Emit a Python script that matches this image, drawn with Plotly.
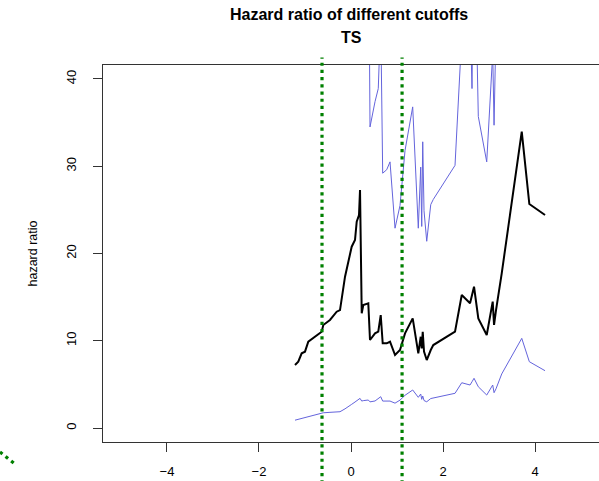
import plotly.graph_objects as go

# cutoff values (x) and hazard ratio with confidence bounds
cutoff = [-1.217, -1.146, -1.072, -1.000, -0.928, -0.783, -0.637, -0.602, -0.457, -0.311,
          -0.239, -0.130, -0.059, 0.015, 0.087, 0.124, 0.174, 0.196, 0.233, 0.267,
          0.376, 0.413, 0.522, 0.593, 0.646, 0.689, 0.776, 0.848, 0.957, 1.065,
          1.174, 1.341, 1.463, 1.515, 1.537, 1.559, 1.587, 1.646, 1.733, 1.789,
          2.261, 2.407, 2.587, 2.630, 2.674, 2.767, 2.950, 3.080, 3.109, 3.152,
          3.276, 3.711, 3.876, 4.217]
hazard = [7.22, 7.60, 8.56, 8.75, 9.89, 10.46, 11.04, 11.81, 12.38, 13.33,
          13.52, 17.34, 18.88, 20.78, 21.55, 23.64, 24.41, 27.28, 13.15, 14.10,
          14.29, 10.09, 10.85, 11.04, 12.95, 9.71, 9.71, 9.89, 8.37, 8.94,
          10.85, 12.57, 8.56, 10.46, 9.13, 11.04, 8.75, 7.79, 8.94, 9.51,
          11.04, 15.24, 14.29, 15.20, 16.19, 12.57, 10.66, 14.48, 11.81, 13.52,
          17.73, 33.96, 25.67, 24.41]
lower = [0.90, 1.00, 1.10, 1.20, 1.32, 1.52, 1.72, 1.75, 1.80, 1.84,
         1.87, 2.20, 2.50, 2.72, 2.98, 3.12, 3.30, 3.40, 3.09, 3.14,
         3.21, 3.00, 3.10, 3.35, 3.59, 3.09, 3.09, 3.09, 2.85, 3.20,
         3.75, 4.36, 3.52, 3.90, 3.29, 3.67, 3.15, 3.01, 3.38, 3.45,
         3.98, 5.19, 4.93, 5.30, 5.70, 4.73, 3.78, 4.93, 4.05, 4.50,
         6.20, 10.28, 7.60, 6.57]
upper = [58, 58, 67, 64, 74, 72, 71, 80, 85, 97,
         98, 137, 143, 159, 156, 179, 181, 219, 56, 63,
         64, 34.5, 37.4, 38.9, 47, 29.2, 29.6, 30.5, 22.9, 25.5,
         31.8, 36.8, 22.9, 29.9, 23.1, 32.8, 24.9, 21.4, 25.6, 26.2,
         30.1, 45, 48, 38.9, 60, 35.7, 30.5, 43, 34.7, 46,
         51, 112, 87, 91]

cut_lines = [-0.63, 1.11]
x_ticks = [-4, -2, 0, 2, 4]
y_ticks = [0, 10, 20, 30, 40]

FONT = "Liberation Sans, Arial, Helvetica, sans-serif"
BLUE = "#6464dc"
GREEN = "#008000"

fig = go.Figure()
fig.add_trace(go.Scatter(x=cutoff, y=upper, mode="lines",
                         line=dict(color=BLUE, width=1), hoverinfo="skip"))
fig.add_trace(go.Scatter(x=cutoff, y=lower, mode="lines",
                         line=dict(color=BLUE, width=1), hoverinfo="skip"))
fig.add_trace(go.Scatter(x=cutoff, y=hazard, mode="lines",
                         line=dict(color="black", width=2)))

for cx in cut_lines:
    fig.add_shape(type="line", xref="x", yref="paper", x0=cx, x1=cx,
                  y0=-0.11, y1=1.02,
                  line=dict(color=GREEN, width=3.2, dash="3.2px,4px"))

# stray dotted fragment at bottom-left of the picture
fig.add_shape(type="line", xref="paper", yref="paper",
              x0=-0.2077, y0=-0.0265, x1=-0.1754, y1=-0.061,
              line=dict(color=GREEN, width=3.2, dash="3.2px,4px"))

fig.add_annotation(text="<b>Hazard ratio of different cutoffs</b>", xref="paper", yref="paper",
                   x=0.496, y=(442 - 14) / 377, showarrow=False,
                   font=dict(family=FONT, size=16, color="black"),
                   xanchor="center", yanchor="middle")
fig.add_annotation(text="<b>TS</b>", xref="paper", yref="paper",
                   x=0.5, y=(442 - 38) / 377, showarrow=False,
                   font=dict(family=FONT, size=16, color="black"),
                   xanchor="center", yanchor="middle")
fig.add_annotation(text="hazard ratio", xref="paper", yref="paper",
                   x=(32 - 103) / 496, y=0.5, showarrow=False, textangle=-90,
                   font=dict(family=FONT, size=12.5, color="black"),
                   xanchor="center", yanchor="middle")

fig.update_layout(
    width=599, height=481,
    margin=dict(l=103, r=0, t=65, b=39),
    paper_bgcolor="white", plot_bgcolor="white",
    showlegend=False,
    font=dict(family=FONT, size=13, color="black"),
    xaxis=dict(range=[-5.39, 5.39], tickvals=x_ticks, ticks="outside", ticklen=9,
               tickwidth=1, tickcolor="#333", showline=True, linecolor="#333",
               linewidth=1, mirror=True, showgrid=False, zeroline=False,
               ticklabelstandoff=8),
    yaxis=dict(range=[-1.6, 41.6], tickvals=y_ticks, ticks="outside", ticklen=9,
               tickwidth=1, tickcolor="#333", showline=True, linecolor="#333",
               linewidth=1, mirror=False, showgrid=False, zeroline=False,
               tickangle=-90, ticklabelstandoff=12),
)

fig.write_html("out.html")
